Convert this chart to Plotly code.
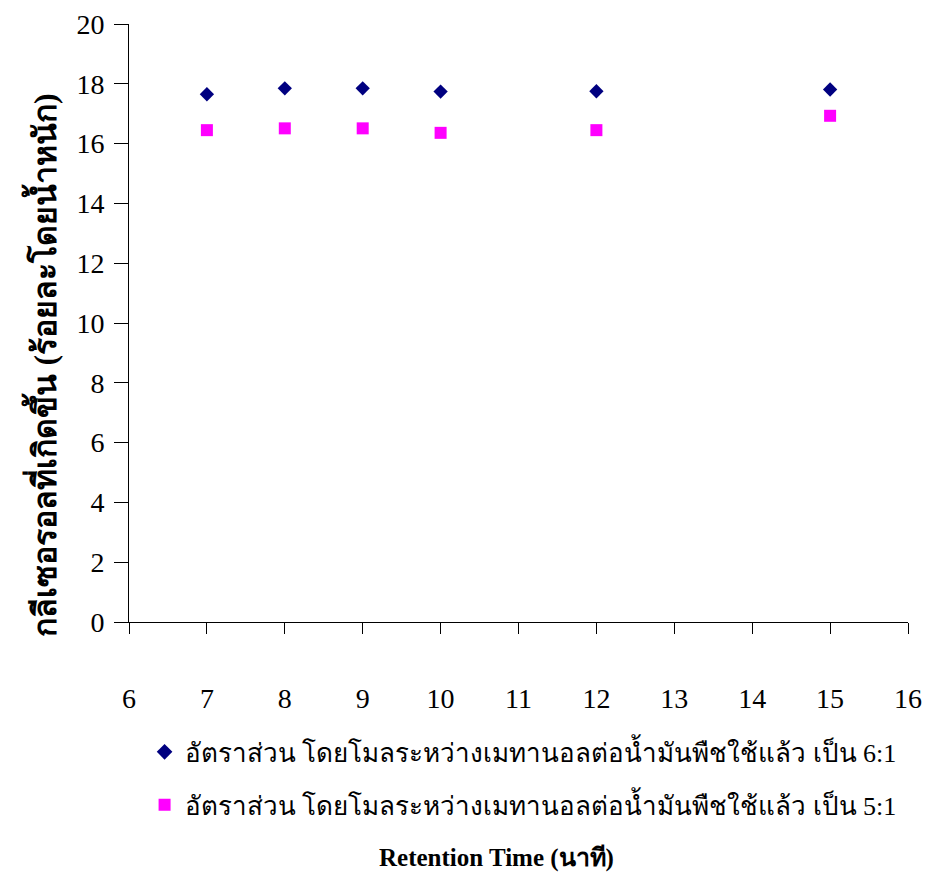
import plotly.graph_objects as go

# Retention time (minutes)
retention_time = [7, 8, 9, 10, 12, 15]

# Product yield (% by weight) for two methanol:oil molar ratios
yield_ratio_6_1 = [17.65, 17.85, 17.85, 17.74, 17.75, 17.81]
yield_ratio_5_1 = [16.45, 16.51, 16.51, 16.36, 16.45, 16.93]

series_names = [
    "อัตราส่วน โดยโมลระหว่างเมทานอลต่อน้ำมันพืชใช้แล้ว เป็น 6:1",
    "อัตราส่วน โดยโมลระหว่างเมทานอลต่อน้ำมันพืชใช้แล้ว เป็น 5:1",
]

x_title = "Retention Time (นาที)"
y_title = "กลีเซอรอลที่เกิดขึ้น (ร้อยละโดยน้ำหนัก)"

serif = "Liberation Serif, Times New Roman, serif"

fig = go.Figure()
fig.add_trace(go.Scatter(
    x=retention_time, y=yield_ratio_6_1, mode="markers", name=series_names[0],
    legendgroup="r61",
    marker=dict(symbol="diamond", size=11, color="#000080"),
))
fig.add_trace(go.Scatter(
    x=retention_time, y=yield_ratio_5_1, mode="markers", name=series_names[1],
    legendgroup="r51",
    marker=dict(symbol="square", size=12, color="#FF00FF"),
))

fig.update_layout(
    width=926, height=872,
    margin=dict(l=129, r=18, t=24, b=250, autoexpand=False),
    paper_bgcolor="white", plot_bgcolor="white",
    font=dict(family=serif, size=28, color="black"),
    showlegend=True,
    legend=dict(
        x=0.02, y=-0.178, xanchor="left", yanchor="top",
        font=dict(size=26, family=serif),
        bgcolor="rgba(0,0,0,0)", itemsizing="constant",
        tracegroupgap=16,
    ),
    xaxis=dict(
        range=[6, 16], tickmode="linear", tick0=6, dtick=1,
        showgrid=False, zeroline=False, automargin=False,
        showline=True, linecolor="black", linewidth=1,
        ticks="outside", ticklen=11, tickcolor="black",
        ticklabelstandoff=40, ticklabeloverflow="allow",
        tickfont=dict(size=28, family=serif),
    ),
    yaxis=dict(
        range=[0, 20], tickmode="linear", tick0=0, dtick=2,
        showgrid=False, zeroline=False, automargin=False,
        showline=True, linecolor="black", linewidth=1,
        ticks="outside", ticklen=14, tickcolor="black",
        ticklabelstandoff=4, ticklabeloverflow="allow",
        tickfont=dict(size=28, family=serif),
    ),
    annotations=[
        dict(text="<b>" + x_title + "</b>", xref="paper", yref="paper",
             x=0.472, y=-0.395, xanchor="center", yanchor="middle",
             showarrow=False, font=dict(size=25, family=serif)),
        dict(text="<b>" + y_title + "</b>", xref="paper", yref="paper",
             x=-0.112, y=0.43, xanchor="center", yanchor="middle",
             textangle=-90, showarrow=False, font=dict(size=32, family=serif)),
    ],
)

fig.write_html("out.html")
